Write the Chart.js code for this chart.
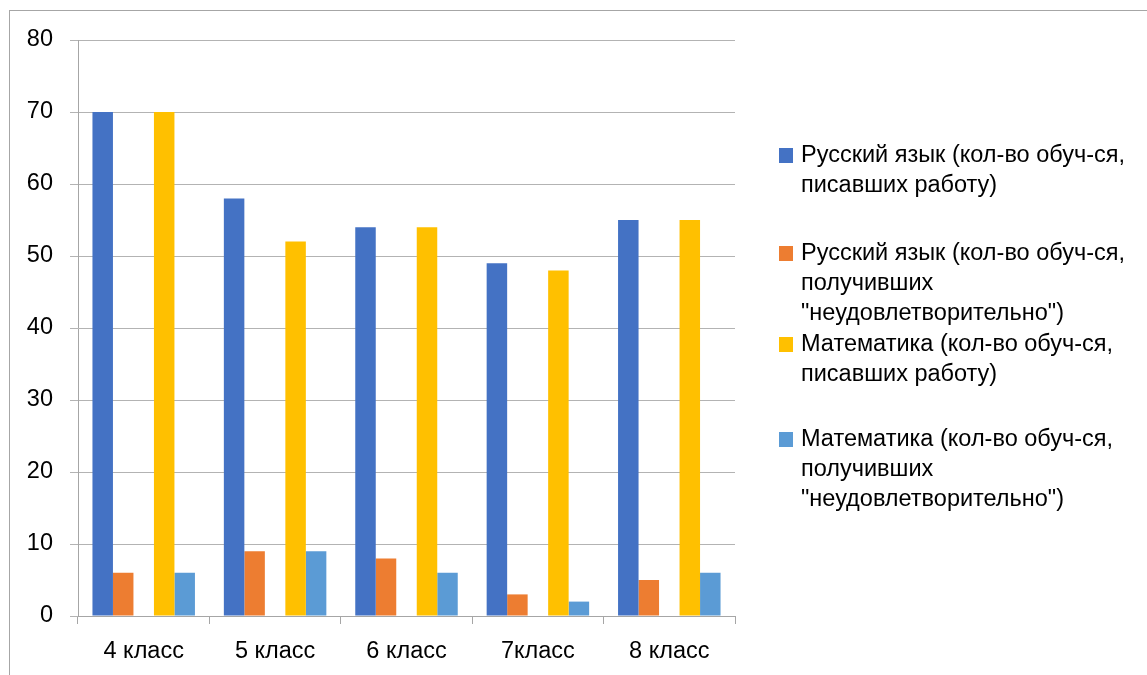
<!DOCTYPE html>
<html>
<head>
<meta charset="utf-8">
<script src="https://cdn.jsdelivr.net/npm/chart.js@4"></script>
<style>
html, body { margin: 0; padding: 0; background: #fff; }
#wrap { position: relative; width: 1147px; height: 675px; overflow: hidden; }
#frame { position: absolute; left: 9px; top: 10px; width: 1200px; height: 700px; border-left: 1px solid #a6a6a6; border-top: 1px solid #a6a6a6; }
canvas { position: absolute; left: 0; top: 0; }
</style>
</head>
<body>
<div id="wrap">
<div id="frame"></div>
<canvas id="chart" width="1147" height="675"></canvas>
</div>
<script>
var classes = ["4 класс", "5 класс", "6 класс", "7класс", "8 класс"];
var rusWrote = [70, 58, 54, 49, 55];
var rusFailed = [6, 9, 8, 3, 5];
var mathWrote = [70, 52, 54, 48, 55];
var mathFailed = [6, 9, 6, 2, 6];
var yTicks = [0, 10, 20, 30, 40, 50, 60, 70, 80];

var legendLines = [
	["Русский язык (кол-во обуч-ся,", "писавших работу)"],
	["Русский язык (кол-во обуч-ся,", "получивших", "\"неудовлетворительно\")"],
	["Математика (кол-во обуч-ся,", "писавших работу)"],
	["Математика (кол-во обуч-ся,", "получивших", "\"неудовлетворительно\")"]
];

var fontName = "'Liberation Sans', Arial, sans-serif";

// legend on the right, drawn by hand because of the multi-line labels
var sideLegend = {
	id: 'sideLegend',
	afterDraw: function(chart){
		var ctx = chart.ctx;
		var tops = [156, 254, 345, 440];
		var sets = chart.data.datasets.filter(function(d){ return d.label; });
		ctx.save();
		ctx.font = '23.5px ' + fontName;
		ctx.textBaseline = 'middle';
		for(var i = 0; i < sets.length; i++){
			var y = tops[i];
			ctx.fillStyle = sets[i].backgroundColor;
			ctx.fillRect(779, y - 8, 14, 15);
			ctx.fillStyle = '#000';
			for(var j = 0; j < legendLines[i].length; j++){
				ctx.fillText(legendLines[i][j], 801, y + j * 30);
			}
		}
		ctx.restore();
	}
};

new Chart(document.getElementById('chart'), {
	type: 'bar',
	data: {
		labels: classes,
		datasets: [
			{ label: 'rusWrote', data: rusWrote, backgroundColor: '#4472C4' },
			{ label: 'rusFailed', data: rusFailed, backgroundColor: '#ED7D31' },
			{ label: '', data: classes.map(function(){ return null; }), backgroundColor: 'rgba(0,0,0,0)' },
			{ label: 'mathWrote', data: mathWrote, backgroundColor: '#FFC000' },
			{ label: 'mathFailed', data: mathFailed, backgroundColor: '#5B9BD5' }
		]
	},
	options: {
		responsive: false,
		animation: false,
		layout: { padding: { left: 0, top: 40, right: 412, bottom: 0 } },
		datasets: { bar: { categoryPercentage: 0.78, barPercentage: 1, borderWidth: 0 } },
		plugins: { legend: { display: false }, tooltip: { enabled: false } },
		scales: {
			x: {
				grid: { display: true, drawOnChartArea: false, offset: true, color: '#a6a6a6', tickLength: 8 },
				border: { color: '#a6a6a6' },
				ticks: { color: '#000', font: { size: 23.5, family: fontName }, padding: 13 },
				afterFit: function(s){ s.height = 675 - 616; }
			},
			y: {
				min: 0, max: 80,
				afterBuildTicks: function(s){ s.ticks = yTicks.map(function(v){ return { value: v }; }); },
				grid: { color: '#b3b3b3', tickLength: 8 },
				border: { color: '#a6a6a6' },
				ticks: { color: '#000', font: { size: 23.5, family: fontName }, padding: 17 },
				afterFit: function(s){ s.width = 78; }
			}
		}
	},
	plugins: [sideLegend]
});
</script>
</body>
</html>
